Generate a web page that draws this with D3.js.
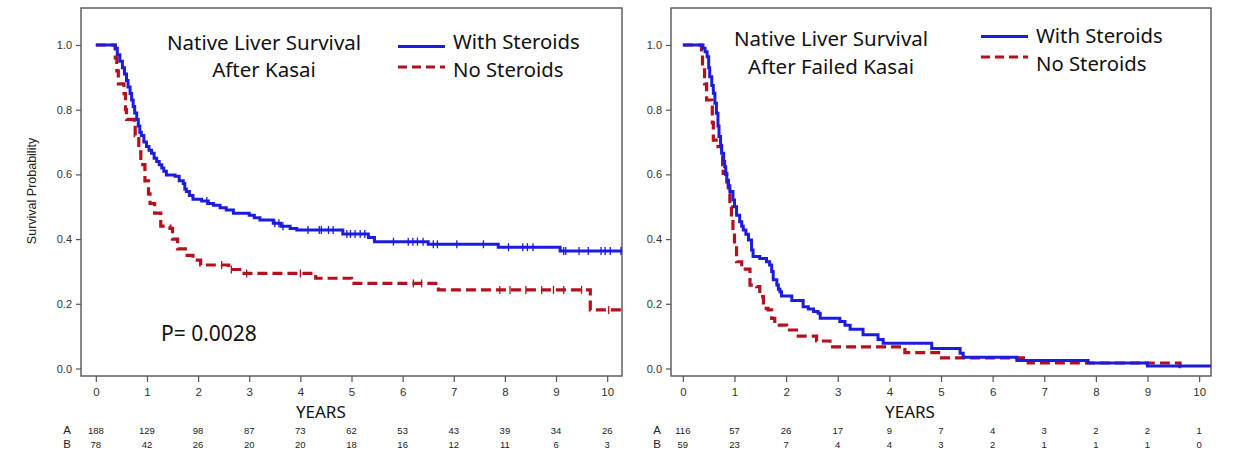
<!DOCTYPE html>
<html>
<head>
<meta charset="utf-8">
<script src="https://cdn.jsdelivr.net/npm/d3@7"></script>
<style>
  body { margin: 0; background: #fff; }
  svg { display: block; }
</style>
</head>
<body>
<script>
// tick values
const yearTicks = [0, 1, 2, 3, 4, 5, 6, 7, 8, 9, 10];
const survTicks = [0, 0.2, 0.4, 0.6, 0.8, 1.0];

// numbers at risk
const riskLeftA  = [188, 129, 98, 87, 73, 62, 53, 43, 39, 34, 26];
const riskLeftB  = [78, 42, 26, 20, 20, 18, 16, 12, 11, 6, 3];
const riskRightA = [116, 57, 26, 17, 9, 7, 4, 3, 2, 2, 1];
const riskRightB = [59, 23, 7, 4, 4, 3, 2, 1, 1, 1, 0];

// KM steps: [time of drop (years), survival after drop]
const leftSteroid = [
  [0.38,0.99],[0.42,0.97],[0.47,0.95],[0.52,0.93],[0.56,0.91],[0.60,0.89],[0.63,0.87],
  [0.67,0.85],[0.70,0.83],[0.73,0.81],[0.76,0.79],[0.80,0.77],[0.83,0.75],[0.86,0.73],
  [0.89,0.72],[0.94,0.70],[0.99,0.686],[1.04,0.675],[1.09,0.665],[1.14,0.65],[1.19,0.64],
  [1.24,0.63],[1.29,0.62],[1.33,0.61],[1.38,0.598],[1.55,0.594],[1.63,0.58],[1.71,0.572],
  [1.74,0.555],[1.77,0.547],[1.83,0.535],[1.90,0.523],[2.07,0.518],[2.20,0.51],[2.30,0.505],
  [2.43,0.497],[2.55,0.49],[2.69,0.48],[3.0,0.474],[3.10,0.466],[3.21,0.459],[3.47,0.449],
  [3.62,0.44],[3.80,0.433],[3.93,0.428],[4.83,0.416],[5.33,0.405],[5.45,0.392],[6.50,0.384],
  [7.87,0.375],[9.08,0.363]
];
const leftNoSteroid = [
  [0.38,0.96],[0.41,0.92],[0.44,0.88],[0.55,0.85],[0.58,0.80],[0.60,0.77],[0.75,0.76],
  [0.77,0.72],[0.84,0.67],[0.88,0.63],[0.96,0.58],[1.03,0.54],[1.06,0.51],[1.15,0.48],
  [1.27,0.44],[1.45,0.433],[1.50,0.40],[1.60,0.37],[1.75,0.35],[1.90,0.335],[2.05,0.32],
  [2.60,0.306],[2.90,0.294],[4.30,0.279],[5.0,0.263],[6.70,0.243],[9.67,0.181]
];
const leftSteroidCensor = [2.17, 3.50, 3.58, 3.66, 4.15, 4.37, 4.41, 4.55, 4.64, 4.91, 4.98,
  5.07, 5.17, 5.26, 5.82, 6.11, 6.20, 6.29, 6.40, 6.60, 6.68, 7.06, 7.58, 8.07, 8.35, 8.44,
  8.55, 9.15, 9.19, 9.45, 9.63, 9.88, 9.96, 10.06, 10.27];
const leftNoSteroidCensor = [2.46, 2.65, 2.95, 4.0, 6.21, 6.37, 7.9, 8.1, 8.41, 8.72, 8.95,
  9.15, 9.5, 10.03];

const rightSteroid = [
  [0.39,0.99],[0.43,0.979],[0.47,0.964],[0.50,0.93],[0.52,0.902],[0.56,0.875],[0.59,0.851],
  [0.62,0.82],[0.65,0.789],[0.68,0.75],[0.70,0.717],[0.73,0.69],[0.75,0.665],[0.79,0.64],
  [0.81,0.624],[0.83,0.60],[0.85,0.583],[0.88,0.565],[0.91,0.547],[0.97,0.521],[1.0,0.50],
  [1.04,0.474],[1.10,0.454],[1.14,0.44],[1.17,0.428],[1.22,0.415],[1.27,0.397],[1.33,0.366],
  [1.36,0.346],[1.49,0.34],[1.62,0.33],[1.68,0.32],[1.72,0.30],[1.75,0.274],[1.82,0.258],
  [1.85,0.245],[1.88,0.237],[1.91,0.224],[2.11,0.21],[2.33,0.191],[2.43,0.184],[2.53,0.176],
  [2.62,0.171],[2.66,0.155],[3.04,0.145],[3.14,0.134],[3.24,0.121],[3.49,0.104],[3.78,0.09],
  [3.88,0.078],[4.82,0.062],[5.37,0.047],[5.43,0.035],[6.47,0.025],[7.85,0.017],[9.0,0.008]
];
const rightNoSteroid = [
  [0.36,0.97],[0.38,0.93],[0.42,0.88],[0.46,0.83],[0.56,0.82],[0.57,0.76],[0.59,0.706],
  [0.68,0.686],[0.75,0.665],[0.77,0.63],[0.78,0.603],[0.85,0.577],[0.88,0.54],[0.91,0.50],
  [0.94,0.46],[0.97,0.428],[1.0,0.38],[1.04,0.33],[1.14,0.307],[1.30,0.258],[1.43,0.253],
  [1.49,0.222],[1.56,0.186],[1.65,0.181],[1.72,0.155],[1.78,0.134],[2.01,0.119],[2.20,0.10],
  [2.59,0.085],[2.85,0.067],[4.30,0.049],[5.01,0.033],[6.69,0.017],[9.63,0.006]
];

const BLUE = '#1c1ce0';
const RED = '#b3111e';
const FONT = "'Noto Sans', 'Open Sans', sans-serif";
const SMALL = "'Liberation Sans', Arial, sans-serif";

const svg = d3.select('body').append('svg')
  .attr('width', 1247)
  .attr('height', 470);

function survAt(steps, t) {
  let s = 1;
  steps.forEach(d => { if (d[0] <= t) s = d[1]; });
  return s;
}

function drawPanel(p) {
  const X = d3.scaleLinear().domain(p.xDomain).range([p.left, p.right]);
  const Y = d3.scaleLinear().domain([0, 1]).range([368.5, 45]);
  const g = svg.append('g');

  // frame
  g.append('rect')
    .attr('x', p.left).attr('y', 8)
    .attr('width', p.right - p.left).attr('height', 376 - 8)
    .attr('fill', 'none').attr('stroke', '#555').attr('stroke-width', 1.4);

  // y axis
  const yAxis = d3.axisLeft(Y).tickValues(survTicks).tickFormat(d3.format('.1f')).tickSize(5).tickPadding(4);
  g.append('g').attr('transform', `translate(${p.left},0)`).call(yAxis)
    .call(a => a.select('.domain').remove())
    .call(a => a.selectAll('line').attr('stroke', '#555').attr('stroke-width', 1.2))
    .call(a => a.selectAll('text').attr('font-family', SMALL).attr('font-size', 11).attr('fill', '#333'));

  // x axis
  const xAxis = d3.axisBottom(X).tickValues(yearTicks).tickSize(6).tickPadding(6);
  g.append('g').attr('transform', 'translate(0,376)').call(xAxis)
    .call(a => a.select('.domain').remove())
    .call(a => a.selectAll('line').attr('stroke', '#555').attr('stroke-width', 1.2))
    .call(a => a.selectAll('text').attr('font-family', SMALL).attr('font-size', 11.5).attr('fill', '#333'));

  g.append('text').attr('x', X(4.4)).attr('y', 418).attr('text-anchor', 'middle')
    .attr('font-family', FONT).attr('font-size', 17).attr('fill', '#111').text('YEARS');

  // risk table
  [['A', p.riskA, 434], ['B', p.riskB, 448]].forEach(([lab, vals, yy]) => {
    g.append('text').attr('x', p.riskLabelX).attr('y', yy).attr('text-anchor', 'middle')
      .attr('font-family', SMALL).attr('font-size', 11.5).attr('fill', '#222').text(lab);
    g.selectAll(null).data(vals).join('text')
      .attr('x', (d, i) => X(yearTicks[i])).attr('y', yy).attr('text-anchor', 'middle')
      .attr('font-family', SMALL).attr('font-size', 9.5).attr('fill', '#222').text(d => d);
  });

  const line = d3.line().x(d => X(d[0])).y(d => Y(d[1])).curve(d3.curveStepAfter);
  const series = [
    { steps: p.noSteroid, end: p.noSteroidEnd, color: RED, dash: '10,5', width: 3.2, censor: p.noSteroidCensor },
    { steps: p.steroid, end: p.steroidEnd, color: BLUE, dash: null, width: 3, censor: p.steroidCensor }
  ];
  series.forEach(s => {
    const pts = [[0, 1]].concat(s.steps, [[s.end, s.steps[s.steps.length - 1][1]]]);
    g.append('path').attr('d', line(pts)).attr('fill', 'none')
      .attr('stroke', s.color).attr('stroke-width', s.width)
      .attr('stroke-dasharray', s.dash);
    g.selectAll(null).data(s.censor).join('line')
      .attr('x1', d => X(d)).attr('x2', d => X(d))
      .attr('y1', d => Y(survAt(s.steps, d)) - 4).attr('y2', d => Y(survAt(s.steps, d)) + 4)
      .attr('stroke', s.color).attr('stroke-width', 1.3);
  });

  // titles
  p.title.forEach((t, i) => {
    g.append('text').attr('x', p.titleX).attr('y', p.titleY[i]).attr('text-anchor', 'middle')
      .attr('font-family', FONT).attr('font-size', 20.5).attr('fill', '#111').text(t);
  });

  // legend
  const L = p.legend;
  g.append('line').attr('x1', L.x1).attr('x2', L.x2).attr('y1', L.y[0]).attr('y2', L.y[0])
    .attr('stroke', BLUE).attr('stroke-width', 3);
  g.append('line').attr('x1', L.x1).attr('x2', L.x2).attr('y1', L.y[1]).attr('y2', L.y[1])
    .attr('stroke', RED).attr('stroke-width', 3.2).attr('stroke-dasharray', '9,5');
  ['With Steroids', 'No Steroids'].forEach((t, i) => {
    g.append('text').attr('x', L.tx).attr('y', L.ty[i])
      .attr('font-family', FONT).attr('font-size', 20.3).attr('fill', '#111').text(t);
  });
}

drawPanel({
  left: 81, right: 622, xDomain: [-0.29, 10.29],
  riskA: riskLeftA, riskB: riskLeftB, riskLabelX: 67,
  steroid: leftSteroid, steroidEnd: 10.29, steroidCensor: leftSteroidCensor,
  noSteroid: leftNoSteroid, noSteroidEnd: 10.29, noSteroidCensor: leftNoSteroidCensor,
  title: ['Native Liver Survival', 'After Kasai'], titleX: 264, titleY: [50, 77],
  legend: { x1: 398, x2: 445, y: [46.5, 67], tx: 453, ty: [49, 77] }
});

drawPanel({
  left: 671, right: 1211, xDomain: [-0.23, 10.23],
  riskA: riskRightA, riskB: riskRightB, riskLabelX: 657,
  steroid: rightSteroid, steroidEnd: 10.23, steroidCensor: [],
  noSteroid: rightNoSteroid, noSteroidEnd: 9.67, noSteroidCensor: [],
  title: ['Native Liver Survival', 'After Failed Kasai'], titleX: 831, titleY: [46, 74],
  legend: { x1: 981, x2: 1028, y: [36.5, 57], tx: 1036, ty: [43, 71] }
});

// y label and p-value (left panel only)
svg.append('text').attr('transform', 'translate(36,191) rotate(-90)').attr('text-anchor', 'middle')
  .attr('font-family', SMALL).attr('font-size', 12.5).attr('fill', '#222').text('Survival Probability');
svg.append('text').attr('x', 161).attr('y', 341)
  .attr('font-family', FONT).attr('font-size', 21).attr('fill', '#111').text('P= 0.0028');
</script>
</body>
</html>
